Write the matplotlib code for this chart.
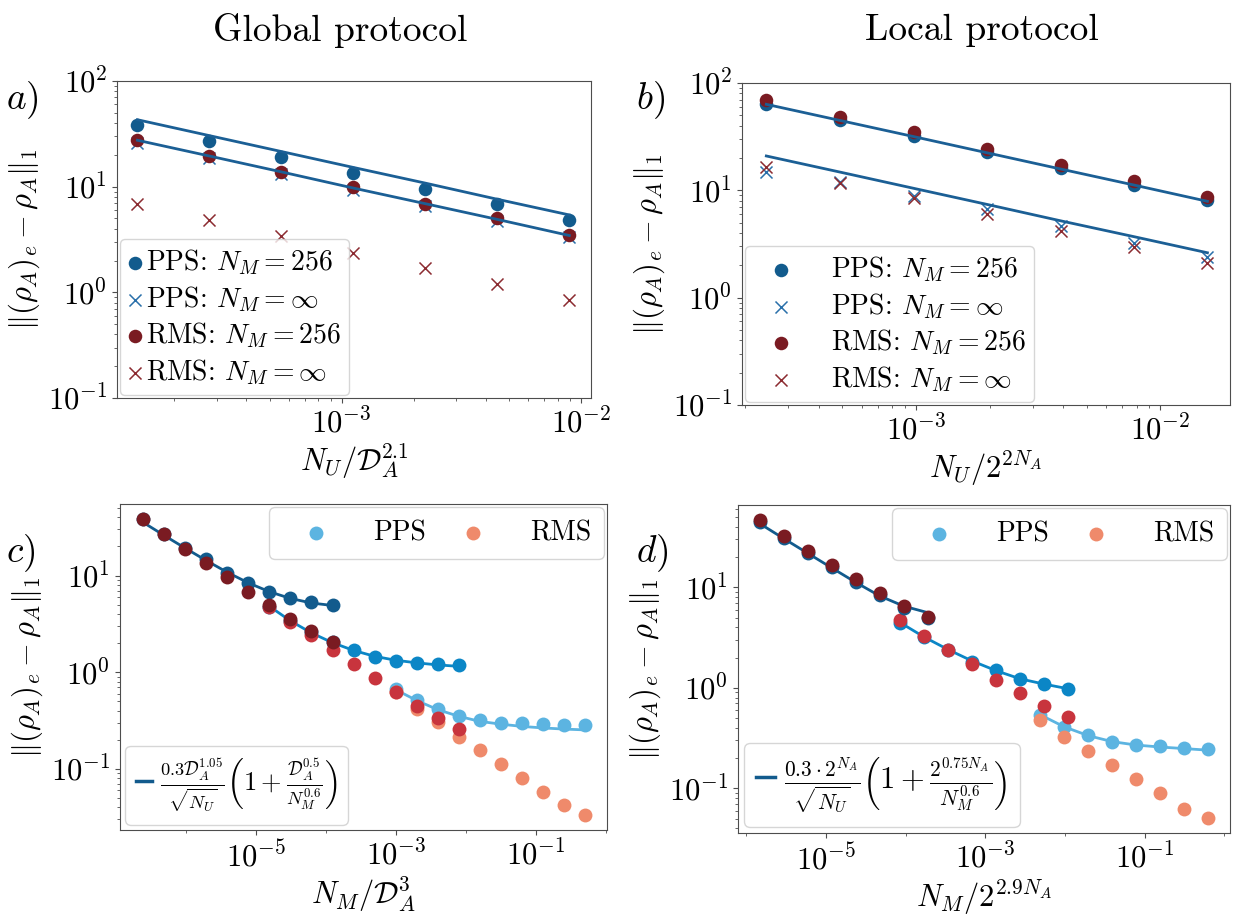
import matplotlib
matplotlib.use('Agg')
import matplotlib.pyplot as plt
from matplotlib.lines import Line2D
from matplotlib.ticker import NullFormatter

plt.rcParams['font.family'] = 'serif'
plt.rcParams['font.serif'] = ['cmr10']
plt.rcParams['mathtext.fontset'] = 'cm'
plt.rcParams['axes.formatter.use_mathtext'] = True

# ---- panel a: global protocol, x = N_U / D_A^2.1
a_x = [1.4e-4, 2.8e-4, 5.6e-4, 1.12e-3, 2.24e-3, 4.48e-3, 8.96e-3]
a_pps_256 = [38.0, 26.9, 19.1, 13.6, 9.6, 6.8, 4.8]
a_pps_inf = [26.0, 18.5, 13.2, 9.4, 6.6, 4.7, 3.35]
a_rms_256 = [27.5, 19.5, 13.9, 9.9, 6.9, 5.0, 3.5]
a_rms_inf = [6.8, 4.8, 3.4, 2.37, 1.70, 1.20, 0.85]
a_fit_256 = [43.0, 30.4, 21.5, 15.2, 10.8, 7.6, 5.4]
a_fit_inf = [27.5, 19.5, 13.8, 9.7, 6.9, 4.9, 3.45]

# ---- panel b: local protocol, x = N_U / 2^(2 N_A)
b_x = [2.44e-4, 4.88e-4, 9.77e-4, 1.95e-3, 3.91e-3, 7.81e-3, 1.56e-2]
b_pps_256 = [63.3, 44.9, 31.9, 22.8, 16.1, 11.3, 8.1]
b_pps_inf = [14.7, 12.0, 8.8, 6.7, 4.7, 3.26, 2.40]
b_rms_256 = [70.0, 48.3, 34.7, 24.3, 17.3, 12.2, 8.7]
b_rms_inf = [16.5, 11.8, 8.4, 6.0, 4.2, 2.97, 2.11]
b_fit_256 = [63.3, 44.8, 31.7, 22.4, 15.8, 11.2, 7.9]
b_fit_inf = [20.9, 14.8, 10.45, 7.4, 5.2, 3.7, 2.62]

# ---- panel c: global protocol vs N_M / D_A^3, three subsystem sizes
c_x1 = [2.4e-7, 4.8e-7, 9.6e-7, 1.92e-6, 3.84e-6, 7.68e-6, 1.54e-5, 3.07e-5, 6.14e-5, 1.23e-4]
c_pps1 = [38.6, 27.2, 19.5, 14.7, 10.7, 8.35, 6.7, 5.85, 5.28, 5.0]
c_rms1 = [38.7, 27.2, 19.0, 13.5, 9.6, 6.8, 4.9, 3.53, 2.65, 2.05]
c_fit1 = [35.5, 26.0, 19.2, 14.3, 10.8, 8.4, 6.8, 5.8, 5.2, 4.9]
c_x2 = [1.54e-5, 3.07e-5, 6.14e-5, 1.23e-4, 2.46e-4, 4.92e-4, 9.83e-4, 1.97e-3, 3.93e-3, 7.86e-3]
c_pps2 = [4.75, 3.4, 2.6, 2.05, 1.68, 1.45, 1.32, 1.25, 1.22, 1.19]
c_rms2 = [4.7, 3.3, 2.41, 1.71, 1.22, 0.87, 0.62, 0.445, 0.335, 0.26]
c_fit2 = [4.8, 3.4, 2.55, 2.02, 1.68, 1.46, 1.33, 1.25, 1.19, 1.15]
c_x3 = [9.83e-4, 1.97e-3, 3.93e-3, 7.86e-3, 1.57e-2, 3.15e-2, 6.29e-2, 0.126, 0.252, 0.503]
c_pps3 = [0.67, 0.52, 0.42, 0.35, 0.32, 0.30, 0.295, 0.29, 0.287, 0.287]
c_rms3 = [0.62, 0.42, 0.307, 0.214, 0.156, 0.112, 0.080, 0.057, 0.042, 0.033]
c_fit3 = [0.66, 0.51, 0.41, 0.35, 0.31, 0.29, 0.275, 0.265, 0.258, 0.253]

# ---- panel d: local protocol vs N_M / 2^(2.9 N_A)
d_x1 = [1.49e-6, 2.98e-6, 5.96e-6, 1.19e-5, 2.38e-5, 4.77e-5, 9.54e-5, 1.91e-4]
d_pps1 = [44.5, 31.2, 22.2, 15.9, 11.4, 8.4, 6.3, 4.95]
d_rms1 = [46.8, 32.6, 23.2, 16.8, 12.0, 8.75, 6.6, 5.08]
d_fit1 = [43.0, 30.5, 21.8, 15.6, 11.2, 8.2, 6.5, 5.6]
d_x2 = [8.6e-5, 1.72e-4, 3.44e-4, 6.88e-4, 1.38e-3, 2.75e-3, 5.5e-3, 1.1e-2]
d_pps2 = [4.4, 3.2, 2.36, 1.81, 1.49, 1.22, 1.10, 0.975]
d_rms2 = [4.71, 3.31, 2.36, 1.72, 1.21, 0.88, 0.668, 0.51]
d_fit2 = [4.45, 3.2, 2.4, 1.85, 1.48, 1.23, 1.09, 0.98]
d_x3 = [4.9e-3, 9.8e-3, 1.96e-2, 3.92e-2, 7.84e-2, 0.157, 0.314, 0.627]
d_pps3 = [0.54, 0.41, 0.34, 0.288, 0.273, 0.265, 0.255, 0.245]
d_rms3 = [0.48, 0.328, 0.238, 0.172, 0.124, 0.090, 0.063, 0.051]
d_fit3 = [0.54, 0.41, 0.335, 0.292, 0.27, 0.258, 0.249, 0.24]

dark_blue = '#125b8d'
dark_red = '#7a1b22'
x_blue = '#2a70aa'
x_red = '#8c2b31'
line_blue = '#1b5f95'
mid_blue = '#0b86c6'
mid_red = '#c8343d'
light_blue = '#5cb4e1'
salmon = '#ef8a6b'

ylab = r'$\|(\rho_A)_e-\rho_A\|_1$'
W, H = 1241, 919
fig = plt.figure(figsize=(W / 100, H / 100), dpi=100)


def px_axes(l, r, t, b):
    return fig.add_axes([l / W, 1 - b / H, (r - l) / W, (b - t) / H])


def style(ax):
    ax.set_xscale('log')
    ax.set_yscale('log')
    ax.tick_params(labelsize=22, which='both', color='0.3')
    for s in ax.spines.values():
        s.set_color('0.3')
    ax.set_ylabel(ylab, fontsize=22, labelpad=4)


# ---- top panels
for (l, r, t, b), x, p256, pinf, r256, rinf, f256, finf, xlab, xlim, hl, hp in [
        ((117, 591, 81, 398), a_x, a_pps_256, a_pps_inf, a_rms_256, a_rms_inf,
         a_fit_256, a_fit_inf, r'$N_U/\mathcal{D}_A^{2.1}$', (1.15e-4, 1.104e-2), 0.5, 0.15),
        ((742, 1230, 83, 405), b_x, b_pps_256, b_pps_inf, b_rms_256, b_rms_inf,
         b_fit_256, b_fit_inf, r'$N_U/2^{2N_A}$', (1.94e-4, 1.93e-2), 2.0, 0.8)]:
    ax = px_axes(l, r, t, b)
    style(ax)
    ax.scatter(x, p256, s=95, color=dark_blue, lw=0, label=r'PPS: $N_M=256$', zorder=3)
    ax.scatter(x, pinf, s=75, marker='x', color=x_blue, lw=1.1, label=r'PPS: $N_M=\infty$', zorder=3)
    ax.scatter(x, r256, s=95, color=dark_red, lw=0, label=r'RMS: $N_M=256$', zorder=3)
    ax.scatter(x, rinf, s=75, marker='x', color=x_red, lw=1.1, label=r'RMS: $N_M=\infty$', zorder=3)
    ax.plot(x, f256, color=line_blue, lw=2, zorder=4)
    ax.plot(x, finf, color=line_blue, lw=2, zorder=4)
    ax.set_xlim(*xlim)
    ax.set_ylim(0.1, 100)
    ax.set_xlabel(xlab, fontsize=22, labelpad=2)
    ax.legend(loc='lower left', fontsize=20, handlelength=hl, handletextpad=hp,
              labelspacing=0.25, borderpad=0.3, borderaxespad=0.1)

# ---- bottom panels
for (l, r, t, b), groups, xlab, xlim, ylim, fit_lab, fit_fs in [
        ((120, 607, 504, 830),
         [(c_x3, c_pps3, c_rms3, c_fit3, light_blue, salmon),
          (c_x2, c_pps2, c_rms2, c_fit2, mid_blue, mid_red),
          (c_x1, c_pps1, c_rms1, c_fit1, dark_blue, dark_red)],
         r'$N_M/\mathcal{D}_A^{3}$', (1.12e-7, 1.04), (0.0233, 55),
         r'$\frac{0.3\mathcal{D}_A^{1.05}}{\sqrt{N_U}}\left(1+\frac{\mathcal{D}_A^{0.5}}{N_M^{0.6}}\right)$', 19),
        ((738, 1230, 505, 833),
         [(d_x3, d_pps3, d_rms3, d_fit3, light_blue, salmon),
          (d_x2, d_pps2, d_rms2, d_fit2, mid_blue, mid_red),
          (d_x1, d_pps1, d_rms1, d_fit1, dark_blue, dark_red)],
         r'$N_M/2^{2.9N_A}$', (7.9e-7, 1.18), (0.036, 66),
         r'$\frac{0.3\cdot 2^{N_A}}{\sqrt{N_U}}\left(1+\frac{2^{0.75N_A}}{N_M^{0.6}}\right)$', 22)]:
    ax = px_axes(l, r, t, b)
    style(ax)
    handles = []
    for i, (x, pps, rms, fit, cb, cr) in enumerate(groups):
        hb = ax.scatter(x, pps, s=100, color=cb, lw=0, zorder=3 + 2 * i)
        ax.plot(x, fit, color=cb, lw=2, zorder=3.5 + 2 * i)
        hr = ax.scatter(x, rms, s=100, color=cr, lw=0, zorder=4 + 2 * i)
        if i == 0:
            handles = [hb, hr]
    ax.set_xticks([1e-5, 1e-3, 1e-1])
    ax.set_xticks([1e-6, 1e-4, 1e-2, 1], minor=True)
    ax.xaxis.set_minor_formatter(NullFormatter())
    ax.set_xlim(*xlim)
    ax.set_ylim(*ylim)
    ax.set_xlabel(xlab, fontsize=22, labelpad=2)
    leg1 = ax.legend(handles, ['PPS', 'RMS'], loc='upper right', ncol=2, fontsize=20,
                     handlelength=2.5, handletextpad=0.8, columnspacing=0.45,
                     borderpad=0.45, borderaxespad=0.12)
    ax.add_artist(leg1)
    ax.legend([Line2D([0], [0], color=dark_blue, lw=2.5)], [fit_lab], loc='lower left',
              fontsize=fit_fs, handlelength=0.6, handletextpad=0.3, borderpad=0.4,
              borderaxespad=0.2)

fig.text(340 / W, 1 - 30 / H, 'Global protocol', ha='center', va='center', fontsize=27)
fig.text(982 / W, 1 - 30 / H, 'Local protocol', ha='center', va='center', fontsize=27)
for lx, ly, s in [(6, 100, r'$a)$'), (636, 100, r'$b)$'), (6, 553, r'$c)$'), (636, 553, r'$d)$')]:
    fig.text(lx / W, 1 - ly / H, s, ha='left', va='center', fontsize=27)

fig.savefig('out.png', dpi=100)
